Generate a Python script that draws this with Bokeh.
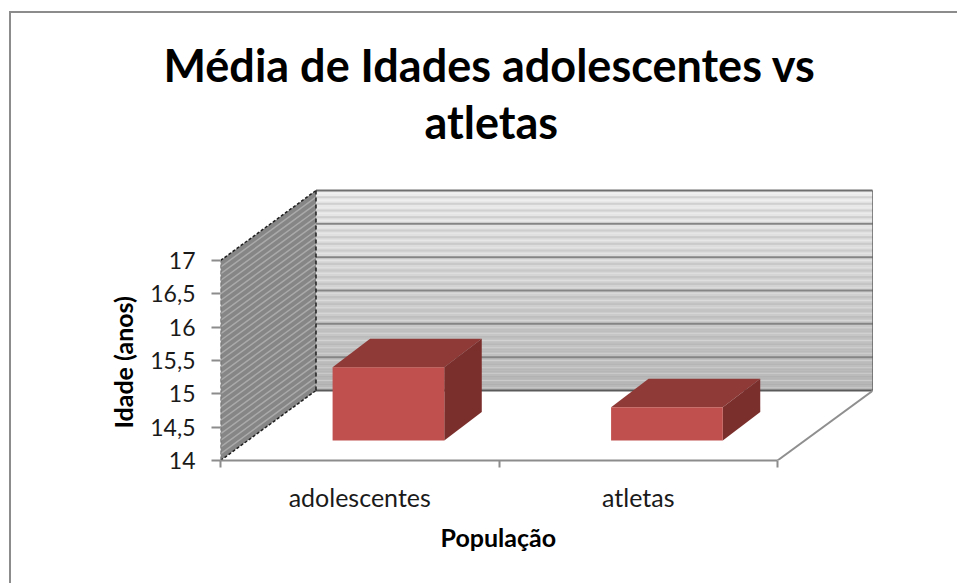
import numpy as np
from bokeh.embed import file_html
from bokeh.models import FixedTicker, InlineStyleSheet, Range1d, Title
from bokeh.plotting import figure
from bokeh.resources import INLINE

# Chart content
title_lines = ["Média de Idades adolescentes vs", "atletas"]
categories = ["adolescentes", "atletas"]
ages = [15.1, 14.5]
y_ticks = [14, 14.5, 15, 15.5, 16, 16.5, 17]
y_tick_labels = ["14", "14,5", "15", "15,5", "16", "16,5", "17"]
x_axis_title = "População"
y_axis_title = "Idade (anos)"

# Plot layout in canvas pixels
FRAME_LEFT, FRAME_RIGHT, FRAME_TOP, FRAME_BOTTOM = 220, 872, 188, 460
X_SCALE = 278.5   # pixels per category
Y_SCALE = 200 / 3  # pixels per year of age
FONT = "Lato"

x_max = (FRAME_RIGHT - FRAME_LEFT) / X_SCALE
y_max = 14 + (FRAME_BOTTOM - FRAME_TOP) / Y_SCALE

p = figure(
    width=957, height=583, output_backend="svg", toolbar_location=None,
    x_range=Range1d(0, x_max), y_range=Range1d(14, y_max),
    min_border_left=FRAME_LEFT, min_border_right=957 - FRAME_RIGHT,
    min_border_top=FRAME_TOP, min_border_bottom=583 - FRAME_BOTTOM,
)
p.grid.visible = False
p.outline_line_color = None
p.background_fill_color = "white"

# Chart-area border along the top and left edges of the page
p.stylesheets = [InlineStyleSheet(css="""
:host::before {
  content: ""; position: absolute; left: 9px; top: 11px; right: 0; bottom: 0;
  border-left: 2px solid #8c8c8c; border-top: 2px solid #8c8c8c;
  pointer-events: none; z-index: 10;
}
""")]

# Pseudo-3D depth: shift of the back wall and of a bar's back face
wall_dx, wall_dy = 95.5 / X_SCALE, 70 / Y_SCALE
bar_dx, bar_dy = 37.5 / X_SCALE, 28.5 / Y_SCALE
bar_base = 14 + 20 / Y_SCALE
bar_width = 0.401
bar_shift = 0.103

# Back wall: vertical grey gradient built from thin bands
wall_levels = np.linspace(14 + wall_dy, 17 + wall_dy, 61)
shades = np.linspace(0xb8, 0xec, 60).astype(int)
p.quad(left=wall_dx, right=wall_dx + 2, bottom=wall_levels[:-1], top=wall_levels[1:],
       fill_color=[f"#{s:02x}{s:02x}{s:02x}" for s in shades], line_color=None)

# Side wall
p.patch([0, 0, wall_dx, wall_dx], [14, 17, 17 + wall_dy, 14 + wall_dy],
        fill_color="#868686", line_color=None)

# Minor grid on both walls, every 0.1 years
minor = np.round(np.arange(14.1, 17.0, 0.1), 1)
minor = minor[np.round(minor * 2) / 2 != minor]
p.segment(wall_dx, minor + wall_dy, wall_dx + 2, minor + wall_dy,
          line_color="#9a9a9a", line_alpha=0.35, line_width=2)
p.segment(0, minor, wall_dx, minor + wall_dy,
          line_color="#aaaaaa", line_width=1.5)

# Major grid on both walls
major = np.array(y_ticks[1:-1])
p.segment(wall_dx, major + wall_dy, wall_dx + 2, major + wall_dy,
          line_color="#858585", line_width=2)
p.segment(0, major, wall_dx, major + wall_dy, line_color="#aaaaaa", line_width=1.5)

# Wall edges and floor
p.line([wall_dx, wall_dx + 2], [17 + wall_dy] * 2, line_color="#6e6e6e", line_width=2)
p.line([wall_dx, wall_dx + 2], [14 + wall_dy] * 2, line_color="#5a5a5a", line_width=2)
p.line([wall_dx + 2] * 2, [14 + wall_dy, 17 + wall_dy], line_color="#1a1a1a", line_width=2)
p.line([2, 2 + wall_dx], [14, 14 + wall_dy], line_color="#8f8f8f", line_width=2)
p.line([0, wall_dx], [17, 17 + wall_dy], line_color="#1f1f1f", line_width=1.5, line_dash="3 2")
p.line([0, wall_dx], [14, 14 + wall_dy], line_color="#1f1f1f", line_width=1.5, line_dash="3 2")
p.line([wall_dx, wall_dx], [14 + wall_dy, 17 + wall_dy], line_color="#1f1f1f",
       line_width=1.5, line_dash="4 3")
p.line([0, 0], [14, 17], line_color="#5f5f5f", line_width=1.5, line_dash="4 2")

# Bars: front, top and side faces
for i, age in enumerate(ages):
    x0 = i + 0.5 + bar_shift - bar_width / 2
    x1 = x0 + bar_width
    top = bar_base + (age - 14)
    p.patch([x0, x0 + bar_dx, x1 + bar_dx, x1],
            [top, top + bar_dy, top + bar_dy, top],
            fill_color="#8f3a37", line_color=None)
    p.patch([x1, x1 + bar_dx, x1 + bar_dx, x1],
            [bar_base, bar_base + bar_dy, top + bar_dy, top],
            fill_color="#7b2f2c", line_color=None)
    p.quad(left=x0, right=x1, bottom=bar_base, top=top,
           fill_color="#c0504d", line_color=None)

# Axes
yax = p.yaxis[0]
yax.bounds = (14, 17)
yax.ticker = FixedTicker(ticks=y_ticks)
yax.major_label_overrides = dict(zip(y_ticks, y_tick_labels))
yax.major_tick_in, yax.major_tick_out = 0, 9
yax.minor_tick_line_color = None
yax.major_tick_line_color = "#8c8c8c"
yax.major_tick_line_width = 2
yax.axis_line_color = None
yax.major_label_text_font = FONT
yax.major_label_text_font_size = "23px"
yax.major_label_text_color = "#1a1a1a"
yax.major_label_standoff = 16

category_centers = [i + 0.5 for i in range(len(categories))]
xax = p.xaxis[0]
xax.bounds = (0, len(categories))
xax.ticker = FixedTicker(ticks=category_centers, minor_ticks=list(range(len(categories) + 1)))
xax.major_label_overrides = dict(zip(category_centers, categories))
xax.major_tick_line_color = None
xax.major_tick_in, xax.major_tick_out = 0, 0
xax.minor_tick_in, xax.minor_tick_out = 0, 7
xax.minor_tick_line_color = "#8c8c8c"
xax.minor_tick_line_width = 2
xax.axis_line_color = "#8c8c8c"
xax.axis_line_width = 2
xax.major_label_text_font = FONT
xax.major_label_text_font_size = "25px"
xax.major_label_text_color = "#1a1a1a"
xax.major_label_standoff = 14


def side_title(text, place, offset, size, standoff):
    p.add_layout(Title(text=text, align="left", offset=offset, standoff=standoff,
                       text_font=FONT, text_font_style="bold",
                       text_font_size=size, text_color="black"), place)


# Two-line chart title and the two axis titles
side_title(title_lines[1], "above", 204, "45px", 80)
side_title(title_lines[0], "above", -57, "45px", -78)
side_title(x_axis_title, "below", 220, "25px", 10)
side_title(y_axis_title, "left", 32, "25px", 20)

open("out.html", "w").write(file_html(p, INLINE))
